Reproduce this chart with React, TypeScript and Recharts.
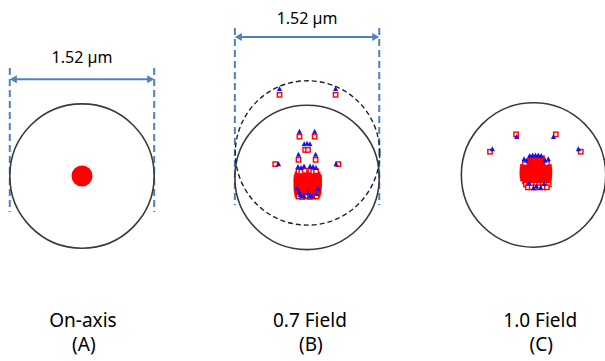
import React from 'react';
import { ScatterChart, Scatter, XAxis, YAxis, ReferenceDot, ReferenceLine } from 'recharts';

// ---------------- data (µm, y up, offsets from each field's Airy-disk centre) ----------------
const airyDiameterUm = 1.52;
const dimensionLabel = '1.52 µm';
const fieldNames = ['On-axis', '0.7 Field', '1.0 Field'];
const fieldTags = ['(A)', '(B)', '(C)'];

// On-axis: all rays land in one tight spot
const onAxisSpot: [number, number][] = [[0, 0]];

// 0.7 field: centre of the dashed reference circle (chief ray)
const field07DashedCentre: [number, number] = [0.005, 0.258];
const field07Blue: [number, number][] = [
  [-0.29, 0.93], [0.30, 0.93],
  [-0.08, 0.48], [0.08, 0.48],
  [-0.03, 0.35], [0.0, 0.355], [0.03, 0.35],
  [-0.09, 0.24], [0.09, 0.24],
  [-0.30, 0.14], [0.305, 0.14],
  [-0.095, 0.11], [-0.063, 0.10], [-0.032, 0.115], [0.032, 0.115], [0.063, 0.11], [0.095, 0.10],
  [-0.105, -0.115], [-0.073, -0.185], [-0.032, -0.195], [0.01, -0.165], [0.052, -0.195],
  [0.095, -0.175], [-0.085, -0.155], [0.115, -0.12], [0.03, -0.2], [-0.055, -0.2],
];
const field07RedOpen: [number, number][] = [
  [-0.29, 0.87], [0.30, 0.87],
  [-0.08, 0.43], [0.08, 0.43],
  [-0.02, 0.29], [0.01, 0.29],
  [-0.09, 0.185], [0.09, 0.185],
  [-0.335, 0.14], [0.33, 0.14],
  [-0.09, 0.065], [-0.06, 0.06], [-0.025, 0.07], [0.035, 0.07], [0.065, 0.06], [0.095, 0.065],
  [-0.09, -0.2], [-0.05, -0.205], [-0.01, -0.2], [0.03, -0.205], [0.07, -0.2], [0.10, -0.2],
];
const field07CoreRows: [number, number[]][] = [
  [0.03, [-0.10, -0.07, -0.04, -0.01, 0.02, 0.05, 0.08, 0.11]],
  [0.0, [-0.11, -0.08, -0.05, -0.02, 0.01, 0.04, 0.07, 0.10, 0.125]],
  [-0.03, [-0.11, -0.08, -0.05, -0.02, 0.01, 0.04, 0.07, 0.10, 0.125]],
  [-0.06, [-0.11, -0.08, -0.05, -0.02, 0.01, 0.04, 0.07, 0.10, 0.125]],
  [-0.09, [-0.11, -0.08, -0.05, -0.02, 0.01, 0.04, 0.07, 0.10, 0.125]],
  [-0.12, [-0.11, -0.08, -0.05, -0.02, 0.01, 0.04, 0.07, 0.10, 0.12]],
  [-0.15, [-0.105, -0.075, -0.045, -0.015, 0.015, 0.045, 0.075, 0.105, 0.12]],
  [-0.18, [-0.10, -0.07, -0.04, -0.01, 0.02, 0.05, 0.08, 0.11]],
];

// 1.0 field
const field10Blue: [number, number][] = [
  [-0.177, 0.40], [0.21, 0.40],
  [-0.434, 0.27], [0.472, 0.27],
  [-0.10, 0.165], [0.155, 0.165],
  [-0.04, 0.20], [-0.01, 0.205], [0.02, 0.205], [0.05, 0.205], [0.08, 0.20],
  [-0.075, 0.15], [0.12, 0.15],
  [-0.05, -0.09], [0.03, -0.12], [0.11, -0.095], [0.0, -0.14], [0.075, -0.135],
];
const field10RedOpen: [number, number][] = [
  [-0.184, 0.428], [0.234, 0.428],
  [-0.458, 0.245], [0.497, 0.245],
  [-0.09, 0.125], [0.14, 0.125],
  [-0.08, -0.10], [-0.045, -0.10], [-0.01, -0.10], [0.025, -0.10], [0.06, -0.10], [0.095, -0.10], [0.13, -0.10], [0.16, -0.10],
  [-0.06, -0.13], [-0.02, -0.13], [0.02, -0.13], [0.06, -0.13], [0.10, -0.13], [0.14, -0.13],
];
const field10CoreRows: [number, number[]][] = [
  [0.175, [-0.03, 0.0, 0.03, 0.06, 0.09]],
  [0.145, [-0.04, -0.01, 0.02, 0.05, 0.08, 0.10]],
  [0.115, [-0.05, -0.02, 0.01, 0.04, 0.07, 0.10, 0.12]],
  [0.085, [-0.11, -0.08, -0.05, -0.02, 0.01, 0.04, 0.07, 0.10, 0.13, 0.16]],
  [0.055, [-0.115, -0.08, -0.05, -0.02, 0.01, 0.04, 0.07, 0.10, 0.13, 0.165]],
  [0.025, [-0.115, -0.08, -0.05, -0.02, 0.01, 0.04, 0.07, 0.10, 0.13, 0.165]],
  [-0.005, [-0.115, -0.08, -0.05, -0.02, 0.01, 0.04, 0.07, 0.10, 0.13, 0.165]],
  [-0.035, [-0.11, -0.08, -0.05, -0.02, 0.01, 0.04, 0.07, 0.10, 0.13, 0.16]],
  [-0.065, [-0.09, -0.06, -0.03, 0.0, 0.03, 0.06, 0.09, 0.12, 0.15]],
];

// ---------------- layout ----------------
const W = 605;
const H = 361;
const DOMAIN_X = 6.368; // µm across the picture
const DOMAIN_Y = 3.8;
const PX_PER_UM = W / DOMAIN_X;
const CENTRES: [number, number][] = [[0.863, 1.947], [3.232, 1.932], [5.616, 1.958]];
const BLUE = '#4F81BD';
const CIRCLE = '#3a3a3a';
const FONT = '"Noto Sans", "Noto Sans CJK KR", sans-serif';

const place = (c: [number, number], pts: [number, number][]) =>
  pts.map(([dx, dy]) => ({ x: c[0] + dx, y: c[1] + dy }));
const placeRows = (c: [number, number], rows: [number, number[]][]) =>
  rows.flatMap(([dy, xs]) => xs.map((dx) => ({ x: c[0] + dx, y: c[1] + dy })));

const openSquare = (p: any) => (
  <rect x={p.cx - 2.2} y={p.cy - 2.2} width={4.4} height={4.4} fill="#fff" stroke="#ff0000" strokeWidth={1.4} />
);
const coreSquare = (p: any) => (
  <rect x={p.cx - 2.6} y={p.cy - 2.6} width={5.2} height={5.2} fill="#ff0000" stroke="#ff0000" strokeWidth={0.6} />
);
const triangle = (p: any) => (
  <polygon points={`${p.cx},${p.cy - 3} ${p.cx - 2.6},${p.cy + 2} ${p.cx + 2.6},${p.cy + 2}`} fill="#1414e6" />
);
const bigDot = (p: any) => <circle cx={p.cx} cy={p.cy} r={10.5} fill="#ff0000" />;

const ArrowLine = (p: any) => {
  const { x1, y1, x2, y2 } = p;
  if ([x1, y1, x2, y2].some((v) => typeof v !== 'number' || isNaN(v))) return null;
  const a = 7;
  const h = 4;
  return (
    <g>
      <line x1={x1 + 2} y1={y1} x2={x2 - 2} y2={y2} stroke={BLUE} strokeWidth={2} />
      <polygon points={`${x1},${y1} ${x1 + a},${y1 - h} ${x1 + a},${y1 + h}`} fill={BLUE} />
      <polygon points={`${x2},${y2} ${x2 - a},${y2 - h} ${x2 - a},${y2 + h}`} fill={BLUE} />
    </g>
  );
};

const rUm = airyDiameterUm / 2;
const rPx = rUm * PX_PER_UM;

// dimension marks for fields A and B (µm offsets from the field centre)
const DIMS: { idx: number; top: number; bottom: number; arrow: number; label: number }[] = [
  { idx: 0, top: 1.137, bottom: -0.379, arrow: 1.02, label: 1.245 },
  { idx: 1, top: 1.574, bottom: -0.29, arrow: 1.479, label: 1.68 },
];
const LABEL_X_OFFSET = [0.01, 0.03, 0.07];
const LABEL_ROW1_Y = (H - 320) / PX_PER_UM;
const LABEL_ROW2_Y = (H - 344) / PX_PER_UM;

export default function App() {
  const [cA, cB, cC] = CENTRES;
  const dashedB: [number, number] = [cB[0] + field07DashedCentre[0], cB[1] + field07DashedCentre[1]];
  return (
    <div style={{ position: 'absolute', left: 0, top: 0, width: W, height: H, background: '#fff' }}>
      <ScatterChart width={W} height={H} margin={{ top: 0, right: 0, bottom: 0, left: 0 }}>
        <XAxis type="number" dataKey="x" domain={[0, DOMAIN_X]} hide allowDataOverflow />
        <YAxis type="number" dataKey="y" domain={[0, DOMAIN_Y]} hide allowDataOverflow />

        {/* Airy disk circles */}
        {CENTRES.map((c, i) => (
          <ReferenceDot key={`c${i}`} x={c[0]} y={c[1]} r={rPx} fill="none" stroke={CIRCLE} strokeWidth={1.6} />
        ))}
        <ReferenceDot x={dashedB[0]} y={dashedB[1]} r={rPx} fill="none" stroke="#222" strokeWidth={1.4} strokeDasharray="5 3" />

        {/* dimension lines */}
        {DIMS.map((d) => {
          const c = CENTRES[d.idx];
          return (
            <React.Fragment key={`d${d.idx}`}>
              <ReferenceLine segment={[{ x: c[0] - rUm, y: c[1] + d.top }, { x: c[0] - rUm, y: c[1] + d.bottom }]} stroke={BLUE} strokeWidth={2} strokeDasharray="7 4" />
              <ReferenceLine segment={[{ x: c[0] + rUm, y: c[1] + d.top }, { x: c[0] + rUm, y: c[1] + d.bottom }]} stroke={BLUE} strokeWidth={2} strokeDasharray="7 4" />
              <ReferenceLine segment={[{ x: c[0] - rUm, y: c[1] + d.arrow }, { x: c[0] + rUm, y: c[1] + d.arrow }]} shape={(p: any) => <ArrowLine {...p} />} />
              <ReferenceDot x={c[0]} y={c[1] + d.label} r={0} fill="none" stroke="none"
                label={{ value: dimensionLabel, position: 'center', fill: '#000', fontSize: 16, fontFamily: FONT }} />
            </React.Fragment>
          );
        })}

        {/* spots */}
        <Scatter data={place(cA, onAxisSpot)} shape={bigDot} isAnimationActive={false} />
        <Scatter data={placeRows(cB, field07CoreRows)} shape={coreSquare} isAnimationActive={false} />
        <Scatter data={placeRows(cC, field10CoreRows)} shape={coreSquare} isAnimationActive={false} />
        <Scatter data={place(cB, field07RedOpen)} shape={openSquare} isAnimationActive={false} />
        <Scatter data={place(cC, field10RedOpen)} shape={openSquare} isAnimationActive={false} />
        <Scatter data={place(cB, field07Blue)} shape={triangle} isAnimationActive={false} />
        <Scatter data={place(cC, field10Blue)} shape={triangle} isAnimationActive={false} />

        {/* field labels */}
        {CENTRES.map((c, i) => (
          <React.Fragment key={`l${i}`}>
            <ReferenceDot x={c[0] + LABEL_X_OFFSET[i]} y={LABEL_ROW1_Y} r={0} fill="none" stroke="none"
              label={{ value: fieldNames[i], position: 'center', fill: '#000', fontSize: 19, fontFamily: FONT }} />
            <ReferenceDot x={c[0] + LABEL_X_OFFSET[i] + 0.01} y={LABEL_ROW2_Y} r={0} fill="none" stroke="none"
              label={{ value: fieldTags[i], position: 'center', fill: '#000', fontSize: 19, fontFamily: FONT }} />
          </React.Fragment>
        ))}
      </ScatterChart>
    </div>
  );
}
